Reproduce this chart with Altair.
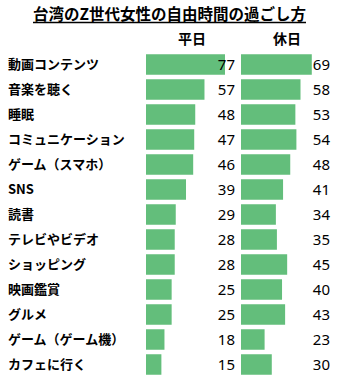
import altair as alt
import pandas as pd

title_text = "台湾のZ世代女性の自由時間の過ごし方"
header_weekday = "平日"
header_holiday = "休日"

categories = ["動画コンテンツ", "音楽を聴く", "睡眠", "コミュニケーション", "ゲーム（スマホ）",
              "SNS", "読書", "テレビやビデオ", "ショッピング", "映画鑑賞", "グルメ",
              "ゲーム（ゲーム機）", "カフェに行く"]
weekday = [77, 57, 48, 47, 46, 39, 29, 28, 28, 25, 25, 18, 15]
holiday = [69, 58, 53, 54, 48, 41, 34, 35, 45, 40, 43, 23, 30]

df = pd.DataFrame({"cat": categories, "weekday": weekday, "holiday": holiday})

JP = "Noto Sans CJK JP"
GREEN = "#63BE7B"
ROW_H = 325

yenc = alt.Y("cat:N", sort=categories, axis=None,
             scale=alt.Scale(type="band", paddingInner=0.18, paddingOuter=0.09))

# header area: title, underline, column headers
t_title = alt.Chart(pd.DataFrame({"t": [title_text]})).mark_text(
    font=JP, fontSize=15.5, fontWeight="bold", baseline="middle", align="center", color="#000"
).encode(text="t:N", x=alt.value(169.5), y=alt.value(15))
t_line = alt.Chart(pd.DataFrame({"t": [title_text]})).mark_rule(
    color="#000", strokeWidth=1.5
).encode(x=alt.value(33), x2=alt.value(306), y=alt.value(22.5))
t_h1 = alt.Chart(pd.DataFrame({"t": [header_weekday]})).mark_text(
    font=JP, fontSize=14, fontWeight="bold", baseline="middle", align="center", color="#000"
).encode(text="t:N", x=alt.value(192), y=alt.value(40))
t_h2 = alt.Chart(pd.DataFrame({"t": [header_holiday]})).mark_text(
    font=JP, fontSize=14, fontWeight="bold", baseline="middle", align="center", color="#000"
).encode(text="t:N", x=alt.value(287), y=alt.value(40))
header = alt.layer(t_title, t_line, t_h1, t_h2).properties(width=336, height=52)

labels = alt.Chart(df).mark_text(
    font=JP, fontSize=13, fontWeight="bold", align="left", baseline="middle", color="#000"
).encode(y=yenc, x=alt.value(8), text="cat:N").properties(width=146, height=ROW_H)


def panel(field):
    bars = alt.Chart(df).mark_bar(color=GREEN).encode(
        y=yenc,
        x=alt.X(f"{field}:Q", axis=None, scale=alt.Scale(domain=[0, 92.6], nice=False)),
    )
    txt = alt.Chart(df).mark_text(
        font="Noto Sans", fontSize=15, align="right", baseline="middle", color="#000"
    ).encode(y=yenc, x=alt.value(89), text=f"{field}:Q")
    return alt.layer(bars, txt).properties(width=95, height=ROW_H)


body = alt.hconcat(labels, panel("weekday"), panel("holiday"), spacing=0)

chart = alt.vconcat(header, body, spacing=0).properties(
    padding=0, background="white"
).configure_view(strokeWidth=0)

chart.save("out.html", embed_options={"renderer": "svg", "actions": False})
